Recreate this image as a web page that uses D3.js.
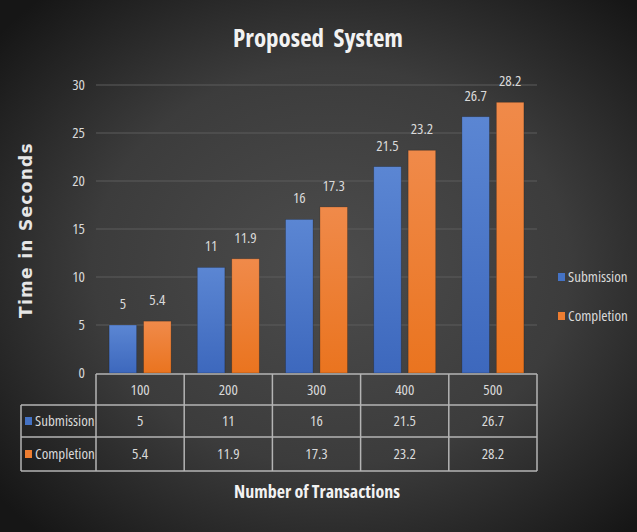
<!DOCTYPE html>
<html>
<head>
<meta charset="utf-8">
<script src="https://cdn.jsdelivr.net/npm/d3@7"></script>
<style>
  body { margin: 0; background: #222; }
  svg { display: block; }
  .narrow { font-family: "Liberation Sans Narrow", "Open Sans", sans-serif; font-stretch: condensed; }
</style>
</head>
<body>
<div id="chart"></div>
<script>
// chart data
var categories = ["100", "200", "300", "400", "500"];
var seriesNames = ["Submission", "Completion"];
var submission = [5, 11, 16, 21.5, 26.7];
var completion = [5.4, 11.9, 17.3, 23.2, 28.2];
var yTicks = [0, 5, 10, 15, 20, 25, 30];

var width = 637, height = 532;
var colors = {Submission: "#4472c4", Completion: "#ed7d31"};
var textColor = "#d9d9d9";

var svg = d3.select("#chart").append("svg")
    .attr("width", width)
    .attr("height", height);

var defs = svg.append("defs");

// dark radial background
var bg = defs.append("radialGradient")
    .attr("id", "bg")
    .attr("cx", "52%").attr("cy", "50%").attr("r", "68%");
bg.append("stop").attr("offset", "0%").attr("stop-color", "#4c4c4c");
bg.append("stop").attr("offset", "55%").attr("stop-color", "#3c3c3c");
bg.append("stop").attr("offset", "100%").attr("stop-color", "#161616");
svg.append("rect").attr("width", width).attr("height", height).attr("fill", "url(#bg)");

// bar gradients
function barGrad(id, top, bottom) {
    var g = defs.append("linearGradient").attr("id", id)
        .attr("x1", 0).attr("y1", 0).attr("x2", 0).attr("y2", 1);
    g.append("stop").attr("offset", "0%").attr("stop-color", top);
    g.append("stop").attr("offset", "100%").attr("stop-color", bottom);
}
barGrad("gSubmission", "#5b86d3", "#3d68bd");
barGrad("gCompletion", "#f08a4a", "#ea741f");

var plot = {left: 96, right: 537, top: 85, bottom: 373};

var x = d3.scaleBand()
    .domain(categories)
    .range([plot.left, plot.right]);

var x1 = d3.scaleBand()
    .domain(seriesNames)
    .range([0, x.bandwidth()])
    .paddingInner(0.2)
    .paddingOuter(0.38);

var y = d3.scaleLinear()
    .domain([0, 30])
    .range([plot.bottom, plot.top]);

// gridlines
svg.append("g")
    .selectAll("line")
    .data(yTicks.filter(function(d) { return d > 0; }))
    .enter().append("line")
    .attr("x1", plot.left)
    .attr("x2", plot.right)
    .attr("y1", function(d) { return y(d); })
    .attr("y2", function(d) { return y(d); })
    .attr("stroke", "#5c5c5c")
    .attr("stroke-width", 1.2);

// y axis
var yAxis = svg.append("g")
    .attr("class", "narrow")
    .attr("transform", "translate(" + plot.left + ",0)")
    .call(d3.axisLeft(y).tickValues(yTicks).tickSize(0).tickPadding(11));
yAxis.select(".domain").remove();
yAxis.selectAll("text")
    .attr("fill", textColor)
    .style("font-size", "15px");

// bars
var data = categories.map(function(c, i) {
    return {cat: c, values: [
        {name: "Submission", value: submission[i]},
        {name: "Completion", value: completion[i]}
    ]};
});

var groups = svg.append("g").selectAll("g")
    .data(data)
    .enter().append("g")
    .attr("transform", function(d) { return "translate(" + x(d.cat) + ",0)"; });

groups.selectAll("rect")
    .data(function(d) { return d.values; })
    .enter().append("rect")
    .attr("x", function(d) { return x1(d.name); })
    .attr("y", function(d) { return y(d.value); })
    .attr("width", x1.bandwidth())
    .attr("height", function(d) { return y(0) - y(d.value); })
    .attr("fill", function(d) { return "url(#g" + d.name + ")"; })
    .attr("stroke", "rgba(0,0,0,0.25)")
    .attr("stroke-width", 0.8);

groups.selectAll("text")
    .data(function(d) { return d.values; })
    .enter().append("text")
    .attr("class", "narrow")
    .attr("x", function(d) { return x1(d.name) + x1.bandwidth() / 2; })
    .attr("y", function(d) { return y(d.value) - 16; })
    .attr("text-anchor", "middle")
    .attr("fill", textColor)
    .style("font-size", "15px")
    .text(function(d) { return d.value; });

// data table
var rows = [374, 405, 437, 471];
var tableLeft = 21;
var table = svg.append("g").attr("class", "narrow");
var lineColor = "#b4b4b4";

// horizontal lines
table.append("line")
    .attr("x1", plot.left).attr("x2", plot.right)
    .attr("y1", rows[0]).attr("y2", rows[0])
    .attr("stroke", lineColor).attr("stroke-width", 1.5);
[rows[1], rows[2], rows[3]].forEach(function(r) {
    table.append("line")
        .attr("x1", tableLeft).attr("x2", plot.right)
        .attr("y1", r).attr("y2", r)
        .attr("stroke", lineColor).attr("stroke-width", 1.5);
});
// vertical lines
var vx = categories.map(function(c) { return x(c); }).concat([plot.right]);
vx.forEach(function(v) {
    table.append("line")
        .attr("x1", v).attr("x2", v)
        .attr("y1", rows[0]).attr("y2", rows[3])
        .attr("stroke", lineColor).attr("stroke-width", 1.5);
});
table.append("line")
    .attr("x1", tableLeft).attr("x2", tableLeft)
    .attr("y1", rows[1]).attr("y2", rows[3])
    .attr("stroke", lineColor).attr("stroke-width", 1.5);

// header row
table.selectAll(".hdr")
    .data(categories)
    .enter().append("text")
    .attr("x", function(d) { return x(d) + x.bandwidth() / 2; })
    .attr("y", (rows[0] + rows[1]) / 2 + 5)
    .attr("text-anchor", "middle")
    .attr("fill", textColor)
    .style("font-size", "15px")
    .text(function(d) { return d; });

var tableSeries = [submission, completion];
seriesNames.forEach(function(name, si) {
    var cy = (rows[si + 1] + rows[si + 2]) / 2;
    table.append("rect")
        .attr("x", 25).attr("y", cy - 4)
        .attr("width", 7).attr("height", 8)
        .attr("fill", colors[name]);
    table.append("text")
        .attr("x", 35).attr("y", cy + 5)
        .attr("fill", textColor)
        .style("font-size", "15px")
        .text(name);
    table.selectAll(".v" + si)
        .data(tableSeries[si])
        .enter().append("text")
        .attr("x", function(d, i) { return x(categories[i]) + x.bandwidth() / 2; })
        .attr("y", cy + 5)
        .attr("text-anchor", "middle")
        .attr("fill", textColor)
        .style("font-size", "15px")
        .text(function(d) { return d; });
});

// legend
var legend = svg.append("g").attr("class", "narrow");
seriesNames.forEach(function(name, i) {
    var ly = 277 + i * 39;
    legend.append("rect")
        .attr("x", 558).attr("y", ly - 4)
        .attr("width", 7).attr("height", 8)
        .attr("fill", colors[name]);
    legend.append("text")
        .attr("x", 568).attr("y", ly + 5)
        .attr("fill", textColor)
        .style("font-size", "15px")
        .text(name);
});

// titles
svg.append("text")
    .attr("class", "narrow")
    .attr("x", 318).attr("y", 47)
    .attr("text-anchor", "middle")
    .attr("fill", "#f2f2f2")
    .style("font-size", "25px")
    .style("font-weight", "bold")
    .style("word-spacing", "5px")
    .text("Proposed System");

svg.append("text")
    .attr("class", "narrow")
    .attr("x", 317).attr("y", 498)
    .attr("text-anchor", "middle")
    .attr("fill", "#f2f2f2")
    .style("font-size", "18px")
    .style("font-weight", "bold")
    .text("Number of Transactions");

svg.append("text")
    .attr("transform", "translate(32,230) rotate(-90)")
    .attr("text-anchor", "middle")
    .attr("fill", "#e6e6e6")
    .style("font-family", "DejaVu Sans, sans-serif")
    .style("font-size", "17px")
    .style("font-weight", "bold")
    .style("letter-spacing", "1.3px")
    .text("Time in Seconds");
</script>
</body>
</html>
